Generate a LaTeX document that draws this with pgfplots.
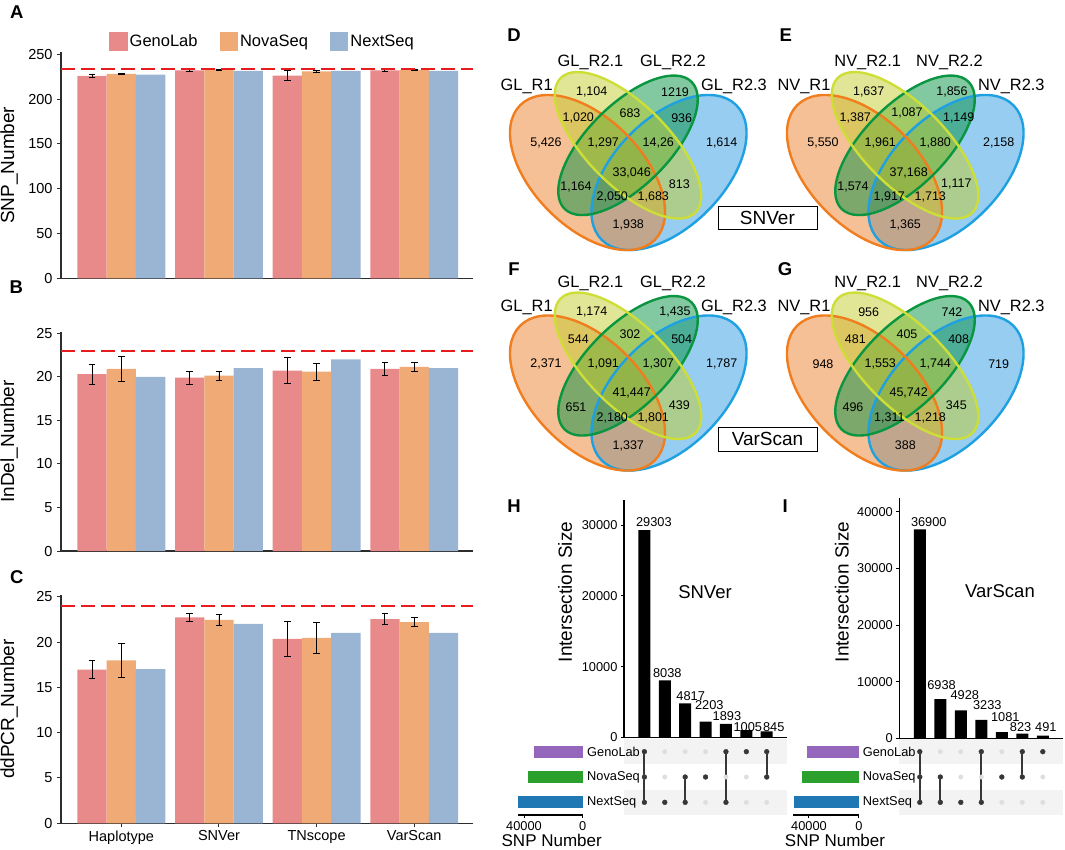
\documentclass[border=0pt]{standalone}
\usepackage{fontspec}
\setmainfont{Liberation Sans}
\usepackage{pgfplots}
\usepackage{pgfplotstable}
\pgfplotsset{compat=1.18}

\definecolor{geno}{RGB}{232,137,138}
\definecolor{nova}{RGB}{239,170,118}
\definecolor{next}{RGB}{153,181,211}
\definecolor{axgray}{RGB}{45,45,45}
\definecolor{dashred}{RGB}{232,28,28}
\definecolor{vOf}{RGB}{237,129,45}
\definecolor{vBf}{RGB}{45,155,225}
\definecolor{vGf}{RGB}{5,145,65}
\definecolor{vYf}{RGB}{195,205,45}
\definecolor{vOe}{RGB}{240,125,30}
\definecolor{vBe}{RGB}{30,160,225}
\definecolor{vGe}{RGB}{10,150,65}
\definecolor{vYe}{RGB}{205,222,55}
\definecolor{upP}{RGB}{148,103,189}
\definecolor{upG}{RGB}{44,160,44}
\definecolor{upB}{RGB}{31,119,180}
\definecolor{band}{RGB}{243,243,243}
\definecolor{dotg}{RGB}{222,222,222}
\definecolor{linek}{RGB}{55,55,55}

\newcommand\fTick{\fontsize{14.5}{17}\selectfont}
\newcommand\fTitle{\fontsize{19}{22}\selectfont}
\newcommand\fLeg{\fontsize{16.5}{19}\selectfont}
\newcommand\fPanel{\fontsize{18.5}{21}\selectfont\bfseries}
\newcommand\fVenn{\fontsize{12.5}{14}\selectfont}
\newcommand\fSet{\fontsize{16.4}{19}\selectfont}
\newcommand\fUp{\fontsize{12.8}{15}\selectfont}
\newcommand\fName{\fontsize{18.5}{21}\selectfont}
\newcommand\fSNP{\fontsize{17}{20}\selectfont}

\tikzset{rowlab/.style={font=\fUp, anchor=west, inner sep=0pt}}

\pgfplotsset{
  /pgf/number format/assume math mode=true,
  /pgf/number format/set thousands separator={},
  barpanel/.style={
    scale only axis, width=412pt,
    xmin=-0.618, xmax=3.602, ymin=0,
    axis x line*=bottom, axis y line*=left,
    axis line style={line width=1.6pt, axgray},
    tick align=outside, major tick length=4pt,
    tick style={line width=1pt, axgray},
    yticklabel style={font=\fTick, xshift=-1pt},
    xticklabel style={font=\fTick},
    ylabel style={font=\fTitle, at={(axis description cs:-0.126,0.5)}, anchor=center},
    clip=false,
  },
  gbar/.style={ybar, bar width=0.3, bar shift=0pt, draw=none, forget plot},
  eb/.style={error bars/y dir=both, error bars/y explicit,
    error bars/error bar style={line width=0.9pt, black},
    error bars/error mark options={rotate=90, mark size=3.3pt, line width=0.9pt, black}},
  redline/.style={dashred, line width=1.8pt, dash pattern=on 13.5pt off 6.5pt, forget plot},
  vennlab/.style={only marks, mark=none, point meta=explicit symbolic, nodes near coords,
    nodes near coords align=center,
    nodes near coords style={font=\fVenn, anchor=center, inner sep=0pt, black}},
  upbar/.style={ybar, bar shift=0pt, fill=black, draw=none, nodes near coords,
    visualization depends on={\thisrow{dx} \as \ldx},
    visualization depends on={\thisrow{dy} \as \ldy},
    nodes near coords style={font=\fUp, anchor=south, inner sep=0pt, black,
      xshift=\ldx pt, yshift=\ldy pt}},
  setbar/.style={xbar, bar width=0.47, bar shift=0pt, draw=none},
}

\pgfplotstableread{
x y label
591.7 91.7 1,104
675.0 91.7 1219
578.3 118.3 1,020
630.0 113.3 683
681.7 118.3 936
546.0 143.3 5,426
603.3 143.3 1,297
658.3 143.3 14,26
721.7 143.3 1,614
631.7 172.7 33,046
576.0 186.7 1,164
679.3 184.3 813
612.3 197.3 2,050
653.3 197.3 1,683
628.3 225.0 1,938
}\vennD
\pgfplotstableread{
x y label
591.7 91.7 1,637
675.0 91.7 1,856
578.3 118.3 1,387
630.0 113.3 1,087
681.7 118.3 1,149
546.0 143.3 5,550
603.3 143.3 1,961
658.3 143.3 1,880
721.7 143.3 2,158
631.7 172.7 37,168
576.0 186.7 1,574
679.3 184.3 1,117
612.3 197.3 1,917
653.3 197.3 1,713
628.3 225.0 1,365
}\vennE
\pgfplotstableread{
x y label
591.7 91.7 1,174
675.0 91.7 1,435
578.3 118.3 544
630.0 113.3 302
681.7 118.3 504
546.0 143.3 2,371
603.3 143.3 1,091
658.3 143.3 1,307
721.7 143.3 1,787
631.7 172.7 41,447
576.0 186.7 651
679.3 184.3 439
612.3 197.3 2,180
653.3 197.3 1,801
628.3 225.0 1,337
}\vennF
\pgfplotstableread{
x y label
591.7 91.7 956
675.0 91.7 742
578.3 118.3 481
630.0 113.3 405
681.7 118.3 408
546.0 143.3 948
603.3 143.3 1,553
658.3 143.3 1,744
721.7 143.3 719
631.7 172.7 45,742
576.0 186.7 496
679.3 184.3 345
612.3 197.3 1,311
653.3 197.3 1,218
628.3 225.0 388
}\vennG

% intersection sizes (dx, dy: label offsets in pt)
\pgfplotstableread{
x y dx dy
1 29303 9.5 2.8
2 8038 2.5 2.5
3 4817 5.5 2.5
4 2203 3.7 11.7
5 1893 1.0 3.2
6 1005 1.5 -1.5
7 845 7.0 -0.5
}\upH
\pgfplotstableread{
x y dx dy
1 36900 9.0 2.6
2 6938 1.2 9.0
3 4928 4.0 10.4
4 3233 6.0 10.0
5 1081 3.5 10.5
6 823 -1.7 2.0
7 491 3.0 3.8
}\upI

% #1 orange cx, #2 blue cx, #3 inner cx, #4 outer cy, #5 inner cy
\newcommand\vennshapes[5]{%
  \fill[vBf, fill opacity=0.5, rotate around={45:(axis cs:#2,#4)}] (axis cs:#2,#4) ellipse [x radius=95.2pt, y radius=54.4pt];
  \fill[vOf, fill opacity=0.5, rotate around={-45:(axis cs:#1,#4)}] (axis cs:#1,#4) ellipse [x radius=95.2pt, y radius=54.4pt];
  \fill[vGf, fill opacity=0.5, rotate around={45:(axis cs:#3,#5)}] (axis cs:#3,#5) ellipse [x radius=89.8pt, y radius=40.8pt];
  \fill[vYf, fill opacity=0.5, rotate around={-45:(axis cs:#3,#5)}] (axis cs:#3,#5) ellipse [x radius=95.2pt, y radius=40.8pt];
  \draw[vBe, line width=2.4pt, rotate around={45:(axis cs:#2,#4)}] (axis cs:#2,#4) ellipse [x radius=95.2pt, y radius=54.4pt];
  \draw[vOe, line width=2.4pt, rotate around={-45:(axis cs:#1,#4)}] (axis cs:#1,#4) ellipse [x radius=95.2pt, y radius=54.4pt];
  \draw[vGe, line width=2.4pt, rotate around={45:(axis cs:#3,#5)}] (axis cs:#3,#5) ellipse [x radius=89.8pt, y radius=40.8pt];
  \draw[vYe, line width=2.4pt, rotate around={-45:(axis cs:#3,#5)}] (axis cs:#3,#5) ellipse [x radius=95.2pt, y radius=40.8pt];
}

\begin{document}
\begin{tikzpicture}
\useasboundingbox (0pt,0pt) rectangle (1065pt,-849pt);

% ---------- overlay axis: Venn diagrams and free text ----------
\begin{axis}[at={(0pt,-849pt)}, anchor=south west, scale only axis,
  width=1065pt, height=849pt, xmin=0, xmax=1065, ymin=-849, ymax=0,
  hide axis, clip=false]
  \vennshapes{587.5}{669}{628}{-172.5}{-145.3}
  \vennshapes{864.5}{946}{905}{-172.5}{-145.3}
  \vennshapes{587.5}{669}{628}{-393}{-365.8}
  \vennshapes{864.5}{946}{905}{-393}{-365.8}
  \addplot[vennlab] table[x=x, y expr=-\thisrow{y}, meta=label] {\vennD};
  \addplot[vennlab] table[x expr=\thisrow{x}+277, y expr=-\thisrow{y}, meta=label] {\vennE};
  \addplot[vennlab] table[x=x, y expr=-\thisrow{y}-220.5, meta=label] {\vennF};
  \addplot[vennlab] table[x expr=\thisrow{x}+277, y expr=-\thisrow{y}-220.5, meta=label] {\vennG};
  % set labels
  \node[font=\fSet, anchor=base] at (axis cs:526.7,-90.7) {GL\_R1};
  \node[font=\fSet, anchor=base] at (axis cs:590.5,-66.7) {GL\_R2.1};
  \node[font=\fSet, anchor=base] at (axis cs:673,-66.7) {GL\_R2.2};
  \node[font=\fSet, anchor=base] at (axis cs:734,-90.7) {GL\_R2.3};
  \node[font=\fSet, anchor=base] at (axis cs:804,-90.7) {NV\_R1};
  \node[font=\fSet, anchor=base] at (axis cs:867.7,-66.7) {NV\_R2.1};
  \node[font=\fSet, anchor=base] at (axis cs:949.5,-66.7) {NV\_R2.2};
  \node[font=\fSet, anchor=base] at (axis cs:1011.3,-90.7) {NV\_R2.3};
  \node[font=\fSet, anchor=base] at (axis cs:526.7,-311.2) {GL\_R1};
  \node[font=\fSet, anchor=base] at (axis cs:590.5,-287.2) {GL\_R2.1};
  \node[font=\fSet, anchor=base] at (axis cs:673,-287.2) {GL\_R2.2};
  \node[font=\fSet, anchor=base] at (axis cs:734,-311.2) {GL\_R2.3};
  \node[font=\fSet, anchor=base] at (axis cs:804,-311.2) {NV\_R1};
  \node[font=\fSet, anchor=base] at (axis cs:867.7,-287.2) {NV\_R2.1};
  \node[font=\fSet, anchor=base] at (axis cs:949.5,-287.2) {NV\_R2.2};
  \node[font=\fSet, anchor=base] at (axis cs:1011.3,-311.2) {NV\_R2.3};
  % boxes
  \node[draw=black, line width=0.8pt, fill=white, minimum width=99pt, minimum height=23.5pt, inner sep=0pt, font=\fTitle] at (axis cs:767.4,-217.8) {SNVer};
  \node[draw=black, line width=0.8pt, fill=white, minimum width=99pt, minimum height=24pt, inner sep=0pt, font=\fTitle] at (axis cs:767.5,-439) {VarScan};
  % panel letters
  \node[font=\fPanel] at (axis cs:16.7,-11.7) {A};
  \node[font=\fPanel] at (axis cs:16.3,-287) {B};
  \node[font=\fPanel] at (axis cs:16.7,-576.7) {C};
  \node[font=\fPanel] at (axis cs:514,-35.5) {D};
  \node[font=\fPanel] at (axis cs:785.7,-35.5) {E};
  \node[font=\fPanel] at (axis cs:514,-269) {F};
  \node[font=\fPanel] at (axis cs:785,-269) {G};
  \node[font=\fPanel] at (axis cs:514,-505.8) {H};
  \node[font=\fPanel] at (axis cs:785.3,-505.8) {I};
  % upset texts
  \node[font=\fTitle, rotate=90] at (axis cs:565,-592) {Intersection Size};
  \node[font=\fTitle, rotate=90] at (axis cs:841.7,-592) {Intersection Size};
  \node[font=\fName] at (axis cs:705,-591.7) {SNVer};
  \node[font=\fName] at (axis cs:1000,-590.7) {VarScan};
  \node[font=\fSNP] at (axis cs:551.7,-840.7) {SNP Number};
  \node[font=\fSNP] at (axis cs:835,-840.7) {SNP Number};
\end{axis}

% ---------- A ----------
\begin{axis}[barpanel, at={(61pt,-278.3pt)}, anchor=south west, height=226pt, ymax=252.2,
  ytick={0,50,100,150,200,250}, xtick=\empty, ylabel={SNP\_Number},
  legend image code/.code={\fill[#1] (0pt,-9.5pt) rectangle (18.5pt,9.5pt);},
  legend style={at={(axis description cs:0.489,1.048)}, anchor=center, draw=none, fill=none,
    font=\fLeg, legend columns=3, /tikz/every even column/.append style={column sep=20pt}},
  legend cell align=left]
  \addlegendimage{fill=geno, draw=none}\addlegendentry{GenoLab}
  \addlegendimage{fill=nova, draw=none}\addlegendentry{NovaSeq}
  \addlegendimage{fill=next, draw=none}\addlegendentry{NextSeq}
  \addplot[gbar, fill=geno, eb] coordinates {(-0.3,226.0) +- (0,2.0) (0.7,232.1) +- (0,1.5) (1.7,226.2) +- (0,5.6) (2.7,232.1) +- (0,1.2)};
  \addplot[gbar, fill=nova, eb] coordinates {(0,228.0) +- (0,1.0) (1,232.5) +- (0,0.4) (2,231.0) +- (0,1.3) (3,232.5) +- (0,0.4)};
  \addplot[gbar, fill=next] coordinates {(0.3,227.3) (1.3,231.4) (2.3,231.4) (3.3,231.4)};
  \addplot[redline] coordinates {(-0.618,234) (3.602,234)};
\end{axis}

% ---------- B ----------
\begin{axis}[barpanel, at={(61pt,-551pt)}, anchor=south west, height=219.3pt, ymax=25.18,
  ytick={0,5,10,15,20,25}, xtick=\empty, ylabel={InDel\_Number}]
  \addplot[gbar, fill=geno, eb] coordinates {(-0.3,20.3) +- (0,1.15) (0.7,19.9) +- (0,0.73) (1.7,20.7) +- (0,1.47) (2.7,20.9) +- (0,0.73)};
  \addplot[gbar, fill=nova, eb] coordinates {(0,20.9) +- (0,1.44) (1,20.15) +- (0,0.52) (2,20.6) +- (0,0.98) (3,21.15) +- (0,0.52)};
  \addplot[gbar, fill=next] coordinates {(0.3,20) (1.3,21) (2.3,22) (3.3,21)};
  \addplot[redline] coordinates {(-0.618,23) (3.602,23)};
\end{axis}

% ---------- C ----------
\begin{axis}[barpanel, at={(61pt,-823.3pt)}, anchor=south west, height=228.3pt, ymax=25.19,
  ytick={0,5,10,15,20,25}, xtick={0,1,2,3}, xticklabels={Haplotype,SNVer,TNscope,VarScan},
  ylabel={ddPCR\_Number}]
  \addplot[gbar, fill=geno, eb] coordinates {(-0.3,16.97) +- (0,1.0) (0.7,22.72) +- (0,0.46) (1.7,20.35) +- (0,1.97) (2.7,22.52) +- (0,0.6)};
  \addplot[gbar, fill=nova, eb] coordinates {(0,17.98) +- (0,1.86) (1,22.44) +- (0,0.6) (2,20.46) +- (0,1.75) (3,22.19) +- (0,0.5)};
  \addplot[gbar, fill=next] coordinates {(0.3,17) (1.3,22) (2.3,21) (3.3,21)};
  \addplot[redline] coordinates {(-0.618,24) (3.602,24)};
\end{axis}

% ---------- H: intersections ----------
\begin{axis}[at={(624pt,-737.3pt)}, anchor=south west, scale only axis, width=162.7pt, height=237.3pt,
  xmin=0, xmax=7.98, ymin=0, ymax=33560, axis x line*=bottom, axis y line*=left,
  axis line style={line width=1.5pt, black}, xtick=\empty, ytick={0,10000,20000,30000},
  scaled y ticks=false, tick align=outside, major tick length=3pt, tick style={line width=1pt, black},
  yticklabel style={font=\fUp}, clip=false]
  \addplot[upbar, bar width=0.59] table[x=x, y=y] {\upH};
\end{axis}
\begin{axis}[at={(624pt,-815pt)}, anchor=south west, scale only axis, width=162.7pt, height=76pt,
  xmin=0, xmax=7.98, ymin=0.5, ymax=3.5, hide axis, clip=false]
  \fill[band] (axis cs:0,0.5) rectangle (axis cs:7.98,1.5);
  \fill[band] (axis cs:0,2.5) rectangle (axis cs:7.98,3.5);
  \addplot[only marks, mark=*, mark size=2.2pt, dotg] coordinates {(1,1)(1,2)(1,3)(2,1)(2,2)(2,3)(3,1)(3,2)(3,3)(4,1)(4,2)(4,3)(5,1)(5,2)(5,3)(6,1)(6,2)(6,3)(7,1)(7,2)(7,3)};
  \addplot[linek, line width=2pt] coordinates {(1,1)(1,3)};
  \addplot[linek, line width=2pt] coordinates {(3,1)(3,2)};
  \addplot[linek, line width=2pt] coordinates {(5,1)(5,3)};
  \addplot[linek, line width=2pt] coordinates {(7,2)(7,3)};
  \addplot[only marks, mark=*, mark size=2.4pt, linek] coordinates {(1,1)(1,2)(1,3)(2,1)(3,1)(3,2)(4,2)(5,1)(5,3)(6,3)(7,2)(7,3)};
\end{axis}
\begin{axis}[at={(582.7pt,-815pt)}, anchor=south east, scale only axis, width=65pt, height=76pt,
  xmin=0, xmax=44300, x dir=reverse, ymin=0.5, ymax=3.5, axis x line*=bottom, axis y line=none,
  xtick={0,40000}, scaled x ticks=false, ytick=\empty, tick align=outside, major tick length=3pt,
  axis line style={line width=1.2pt, black}, tick style={black, line width=1pt},
  xticklabel style={font=\fUp}, clip=false]
  \addplot[setbar, fill=upP] coordinates {(33046,3)};
  \addplot[setbar, fill=upG] coordinates {(37168,2)};
  \addplot[setbar, fill=upB] coordinates {(44051,1)};
  \node[rowlab, xshift=4.3pt] at (axis cs:0,3) {GenoLab};
  \node[rowlab, xshift=4.3pt] at (axis cs:0,2) {NovaSeq};
  \node[rowlab, xshift=4.3pt] at (axis cs:0,1) {NextSeq};
\end{axis}

% ---------- I: intersections ----------
\begin{axis}[at={(899.3pt,-738.3pt)}, anchor=south west, scale only axis, width=163.7pt, height=240pt,
  xmin=0, xmax=7.985, ymin=0, ymax=42370, axis x line*=bottom, axis y line*=left,
  axis line style={line width=1.5pt, black}, xtick=\empty, ytick={0,10000,20000,30000,40000},
  scaled y ticks=false, tick align=outside, major tick length=3pt, tick style={line width=1pt, black},
  yticklabel style={font=\fUp}, clip=false]
  \addplot[upbar, bar width=0.585] table[x=x, y=y] {\upI};
\end{axis}
\begin{axis}[at={(899.3pt,-815pt)}, anchor=south west, scale only axis, width=163.7pt, height=76pt,
  xmin=0, xmax=7.985, ymin=0.5, ymax=3.5, hide axis, clip=false]
  \fill[band] (axis cs:0,0.5) rectangle (axis cs:7.985,1.5);
  \fill[band] (axis cs:0,2.5) rectangle (axis cs:7.985,3.5);
  \addplot[only marks, mark=*, mark size=2.2pt, dotg] coordinates {(1,1)(1,2)(1,3)(2,1)(2,2)(2,3)(3,1)(3,2)(3,3)(4,1)(4,2)(4,3)(5,1)(5,2)(5,3)(6,1)(6,2)(6,3)(7,1)(7,2)(7,3)};
  \addplot[linek, line width=2pt] coordinates {(1,1)(1,3)};
  \addplot[linek, line width=2pt] coordinates {(2,1)(2,2)};
  \addplot[linek, line width=2pt] coordinates {(4,1)(4,3)};
  \addplot[linek, line width=2pt] coordinates {(6,2)(6,3)};
  \addplot[only marks, mark=*, mark size=2.4pt, linek] coordinates {(1,1)(1,2)(1,3)(2,1)(2,2)(3,1)(4,1)(4,3)(5,2)(6,2)(6,3)(7,3)};
\end{axis}
\begin{axis}[at={(858.8pt,-815pt)}, anchor=south east, scale only axis, width=65.5pt, height=76pt,
  xmin=0, xmax=52550, x dir=reverse, ymin=0.5, ymax=3.5, axis x line*=bottom, axis y line=none,
  xtick={0,40000}, scaled x ticks=false, ytick=\empty, tick align=outside, major tick length=3pt,
  axis line style={line width=1.2pt, black}, tick style={black, line width=1pt},
  xticklabel style={font=\fUp}, clip=false]
  \addplot[setbar, fill=upP] coordinates {(41447,3)};
  \addplot[setbar, fill=upG] coordinates {(45742,2)};
  \addplot[setbar, fill=upB] coordinates {(51999,1)};
  \node[rowlab, xshift=3.9pt] at (axis cs:0,3) {GenoLab};
  \node[rowlab, xshift=3.9pt] at (axis cs:0,2) {NovaSeq};
  \node[rowlab, xshift=3.9pt] at (axis cs:0,1) {NextSeq};
\end{axis}
\end{tikzpicture}
\end{document}
